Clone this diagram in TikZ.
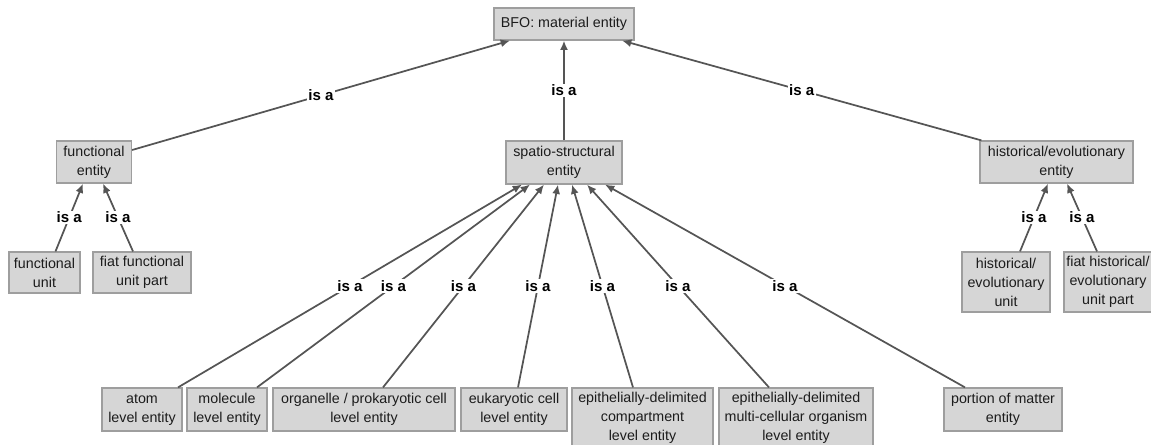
\documentclass[tikz,border=0pt]{standalone}
\usepackage{fontspec}
\setmainfont{Liberation Sans}
\usetikzlibrary{arrows.meta,calc}
\definecolor{boxfill}{RGB}{214,214,214}
\definecolor{boxline}{RGB}{158,158,158}
\definecolor{edgeline}{RGB}{85,85,85}
\definecolor{txt}{RGB}{28,28,28}

\begin{document}
\begin{tikzpicture}[x=0.75pt,y=-0.75pt,
  box/.style 2 args={draw=boxline, line width=0.9pt, fill=boxfill, inner sep=0pt,
    align=center, text=txt, minimum width={#1*0.75pt}, minimum height={#2*0.75pt},
    font=\fontsize{10.7}{14.2}\selectfont},
  isa/.style={-{Latex[length=7pt,width=6pt]}, draw=edgeline, line width=1.3pt},
  lbl/.style={fill=white, inner sep=1pt, text=black,
    font=\bfseries\fontsize{11.3}{12.5}\selectfont}]

\clip (0,0) rectangle (1151,445);

% top level
\node[box={140}{32}] (bfo) at (564,24) {BFO: material entity};

% second level
\node[box={75}{42}]  (fe) at (94,162)     {functional\\entity};
\node[box={116}{43}] (ss) at (564,162.5)  {spatio-structural\\entity};
\node[box={153}{42}] (he) at (1056.5,162) {historical/evolutionary\\entity};

% functional branch
\node[box={71}{41}] (fu)  at (44.5,272.5) {functional\\unit};
\node[box={98}{41}] (ffu) at (142,272.5)  {fiat functional\\unit part};

% historical branch
\node[box={88}{60}] (hu)  at (1006,282) {historical/\\evolutionary\\unit};
\node[box={88}{60}] (fhu) at (1108,282) {fiat historical/\\evolutionary\\unit part};

% spatio-structural branch
\node[box={80}{43}]  (atom) at (142,409.5)  {atom\\level entity};
\node[box={80}{43}]  (mol)  at (227,409.5)  {molecule\\level entity};
\node[box={182}{43}] (org)  at (364,409.5)  {organelle / prokaryotic cell\\level entity};
\node[box={106}{43}] (euk)  at (514,409.5)  {eukaryotic cell\\level entity};
\node[box={141}{60}] (epc)  at (642.5,418)  {epithelially-delimited\\compartment\\level entity};
\node[box={154}{60}] (epm)  at (796,418)    {epithelially-delimited\\multi-cellular organism\\level entity};
\node[box={118}{43}] (por)  at (1003,409.5) {portion of matter\\entity};

% is-a links to the root
\draw[isa] ($(fe.east)+(0,-12)$) -- node[lbl]{is a} ($(bfo.south)+(-54,0)$);
\draw[isa] (ss.north) -- node[lbl]{is a} (bfo.south);
\draw[isa] ($(he.north west)+(2,0)$) -- node[lbl]{is a} ($(bfo.south)+(58,0)$);

% functional links
\draw[isa] ($(fu.north)+(11,0)$) -- node[lbl]{is a} ($(fe.south)+(-11,0)$);
\draw[isa] ($(ffu.north)+(-9,0)$) -- node[lbl]{is a} ($(fe.south)+(9,0)$);

% historical links
\draw[isa] ($(hu.north)+(14,0)$) -- node[lbl]{is a} ($(he.south)+(-8.5,0)$);
\draw[isa] ($(fhu.north)+(-11,0)$) -- node[lbl]{is a} ($(he.south)+(10.5,0)$);

% spatio-structural links
\draw[isa] ($(atom.north)+(36,0)$)  -- node[lbl]{is a} ($(ss.south)+(-42,0)$);
\draw[isa] ($(mol.north)+(30,0)$)   -- node[lbl]{is a} ($(ss.south)+(-34,0)$);
\draw[isa] ($(org.north)+(19,0)$)   -- node[lbl]{is a} ($(ss.south)+(-20,0)$);
\draw[isa] ($(euk.north)+(4,0)$)    -- node[lbl]{is a} ($(ss.south)+(-6,0)$);
\draw[isa] ($(epc.north)+(-9.5,0)$) -- node[lbl]{is a} ($(ss.south)+(8,0)$);
\draw[isa] ($(epm.north)+(-27,0)$)  -- node[lbl]{is a} ($(ss.south)+(23,0)$);
\draw[isa] ($(por.north)+(-38,0)$)  -- node[lbl]{is a} ($(ss.south)+(41,0)$);

\end{tikzpicture}
\end{document}
